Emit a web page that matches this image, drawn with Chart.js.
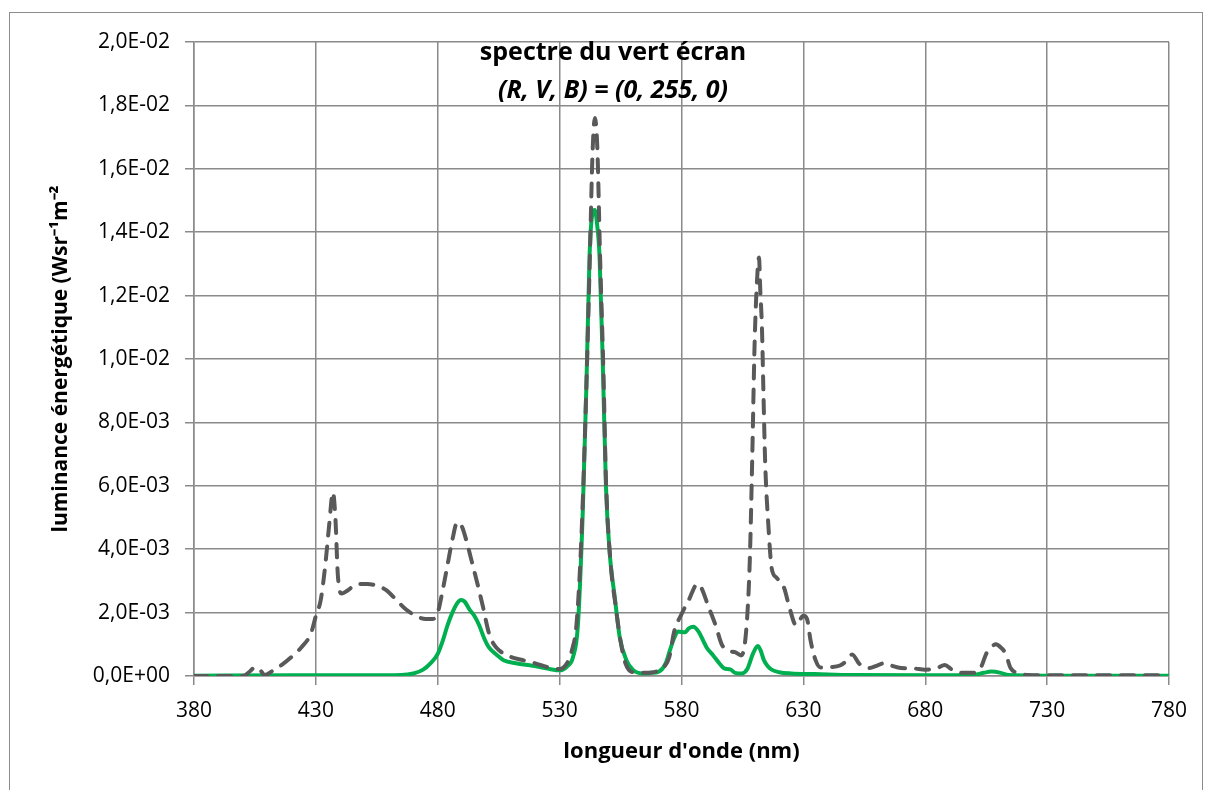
<!DOCTYPE html>
<html>
<head>
<meta charset="utf-8">
<script src="https://cdn.jsdelivr.net/npm/chart.js@4"></script>
<style>
  body { margin: 0; background: #fff; }
  #wrap { position: relative; width: 1210px; height: 790px; }
  #frame { position: absolute; left: 9px; top: 12px; width: 1194px; height: 800px;
           border: 1.5px solid #8c8c8c; box-sizing: border-box; pointer-events: none; }
</style>
</head>
<body>
<div id="wrap">
  <canvas id="spectre" width="1210" height="790"></canvas>
  <div id="frame"></div>
</div>
<script>
// spectre en pointillés (gris)
const wlDash = [380, 390, 400, 403, 405, 407, 409, 412, 416, 420, 424, 428, 430, 432, 434, 435.5, 437, 438, 439, 440.5,
  443, 447, 451, 455, 459, 463, 467, 471, 475, 478, 480, 482, 484, 486, 488, 490, 492, 494, 496, 498.5,
  501, 503, 505, 510, 515, 520, 525, 530, 533, 535, 537, 539, 541, 542.5, 543.5, 544.5, 545.5, 546.5, 548, 549,
  551, 553, 555, 557, 560, 565, 570, 573, 575, 577, 580, 583, 586.5, 588, 591, 594, 596.5, 599, 602, 604.5,
  606.5, 608, 609, 610, 611, 611.8, 612.3, 613, 613.6, 614.3, 615.6, 617, 619, 622, 624.5, 627, 630, 631.5, 633, 635,
  637, 641, 645, 648, 650, 653, 657, 660, 663, 666, 670, 675, 680, 685, 688, 691, 695, 700, 703, 705,
  707, 709, 711, 713, 715, 718, 722, 730, 740, 760, 780]
const dashVals = [0, 0, 0, 0.00015, 0.00028, 0.0002, 0.00003, 0.00015, 0.00035, 0.0006, 0.0009, 0.00135, 0.0019, 0.0024, 0.0036, 0.0048, 0.0058, 0.005, 0.0032, 0.0026,
  0.0027, 0.0029, 0.0029, 0.00285, 0.0027, 0.0024, 0.0021, 0.0019, 0.0018, 0.0018, 0.002, 0.0027, 0.0035, 0.0043, 0.00485, 0.0047, 0.0042, 0.0036, 0.003, 0.0022,
  0.00135, 0.001, 0.00082, 0.0006, 0.0005, 0.0004, 0.00028, 0.00022, 0.0004, 0.0008, 0.0017, 0.0045, 0.0092, 0.0135, 0.0165, 0.0176, 0.0166, 0.0135, 0.0095, 0.0062,
  0.0035, 0.0022, 0.0011, 0.0004, 0.00012, 0.0001, 0.00015, 0.0003, 0.0006, 0.0014, 0.00195, 0.0024, 0.0029, 0.0028, 0.0022, 0.0016, 0.001, 0.0008, 0.00075, 0.00065,
  0.0014, 0.0036, 0.0068, 0.0105, 0.0125, 0.0132, 0.0122, 0.011, 0.009, 0.0068, 0.0048, 0.0034, 0.0031, 0.0028, 0.0021, 0.0016, 0.0019, 0.0018, 0.0011, 0.0005,
  0.00027, 0.00028, 0.00033, 0.0005, 0.00068, 0.00038, 0.00025, 0.00032, 0.0004, 0.00033, 0.00025, 0.00024, 0.0002, 0.00025, 0.00035, 0.0002, 0.0001, 0.0001, 0.0003, 0.0007,
  0.0009, 0.001, 0.0009, 0.0007, 0.00025, 0.0001, 0.00003, 0.00002, 0.00002, 0.00002, 0.00002]

// spectre du vert (trait plein)
const wlVert = [380, 420, 450, 465, 470, 474, 477, 480, 482, 484, 486, 488, 489.5, 491, 493, 495, 497, 499, 501, 504,
  507, 512, 519, 526, 530, 533, 535.5, 537.5, 539.5, 541, 542.3, 543.5, 544.4, 545.3, 546.4, 547.8, 549, 550.5, 552.6, 554.7,
  557.4, 560, 564, 568, 571, 573.5, 575.2, 577, 578.6, 581.4, 583, 584.8, 587, 589, 590.3, 593, 595.5, 597.5, 600, 602,
  604.7, 607, 609.3, 611.3, 612.5, 613.8, 615.5, 617, 620, 625, 635, 650, 680, 700, 704, 707, 711, 714, 730, 780]
const vertVals = [0.00001, 0.00002, 0.00002, 0.00003, 0.00008, 0.0002, 0.0004, 0.0007, 0.0011, 0.0016, 0.002, 0.0023, 0.0024, 0.00235, 0.0021, 0.0019, 0.0016, 0.0012, 0.0009, 0.00068,
  0.0005, 0.0004, 0.00032, 0.00022, 0.00018, 0.0003, 0.0006, 0.0016, 0.0052, 0.0092, 0.0133, 0.0146, 0.0147, 0.0143, 0.0132, 0.0096, 0.006, 0.0039, 0.0025, 0.0012,
  0.0005, 0.0002, 0.00008, 0.0001, 0.00015, 0.0004, 0.0008, 0.0012, 0.0014, 0.00138, 0.0015, 0.00155, 0.0014, 0.0011, 0.0009, 0.00065, 0.0004, 0.00024, 0.00021, 0.0001,
  0.00008, 0.00022, 0.0007, 0.00095, 0.0008, 0.0005, 0.0003, 0.0002, 0.00012, 0.00008, 0.00006, 0.00003, 0.00002, 0.00004, 0.0001, 0.00014, 0.0001, 0.00003, 0.00001, 0.00001]

const titleLines = ['spectre du vert écran', '(R, V, B) = (0, 255, 0)']
const xTitle = "longueur d'onde (nm)"
const yTitle = 'luminance énergétique (Wsr⁻¹m⁻²'

const gridColor = '#8a8a8a'

function sci(v) {
  const parts = v.toExponential(1).split('e')
  const n = parseInt(parts[1])
  return parts[0].replace('.', ',') + 'E' + (n < 0 ? '-' : '+') + String(Math.abs(n)).padStart(2, '0')
}

const titlePlugin = {
  id: 'titreInterne',
  afterDraw(chart) {
    const ctx = chart.ctx
    ctx.save()
    ctx.fillStyle = '#000'
    ctx.textAlign = 'center'
    ctx.textBaseline = 'middle'
    ctx.font = 'bold 25px "Open Sans"'
    ctx.fillText(titleLines[0], 613, 53)
    ctx.font = 'italic bold 25px "Open Sans"'
    ctx.fillText(titleLines[1], 613, 91)
    ctx.restore()
  }
}

Chart.defaults.font.family = '"Open Sans"'
Chart.defaults.color = '#000'

new Chart(document.getElementById('spectre'), {
  type: 'line',
  data: {
    datasets: [{
      data: wlDash.map((w, i) => ({x: w, y: dashVals[i]})),
      borderColor: '#595959',
      borderWidth: 4,
      borderDash: [13, 11],
      borderCapStyle: 'round',
      cubicInterpolationMode: 'monotone',
      pointRadius: 0
    }, {
      data: wlVert.map((w, i) => ({x: w, y: vertVals[i]})),
      borderColor: '#00b050',
      borderWidth: 4,
      cubicInterpolationMode: 'monotone',
      pointRadius: 0
    }]
  },
  options: {
    responsive: false,
    animation: false,
    layout: { padding: { top: 42, right: 41, left: 0, bottom: 0 } },
    plugins: { legend: { display: false }, tooltip: { enabled: false } },
    scales: {
      x: {
        type: 'linear', min: 380, max: 780,
        afterFit: s => { s.height = 114 },
        ticks: { stepSize: 50, padding: 13, font: { size: 21 }, maxRotation: 0 },
        grid: { color: gridColor, lineWidth: 1.5, tickLength: 9 },
        border: { color: gridColor, width: 1.5 },
        title: { display: true, text: xTitle, font: { size: 22, weight: 'bold' }, padding: { top: 0, bottom: 25 } }
      },
      y: {
        min: 0, max: 0.02,
        afterFit: s => { s.width = 194 },
        ticks: { stepSize: 0.002, padding: 15, font: { size: 21 }, callback: v => sci(v) },
        grid: { color: gridColor, lineWidth: 1.5, tickLength: 9 },
        border: { color: gridColor, width: 1.5 },
        title: { display: true, text: yTitle, font: { size: 21, weight: 'bold' }, padding: { top: 48, bottom: 0 } }
      }
    }
  },
  plugins: [titlePlugin]
})
</script>
</body>
</html>
